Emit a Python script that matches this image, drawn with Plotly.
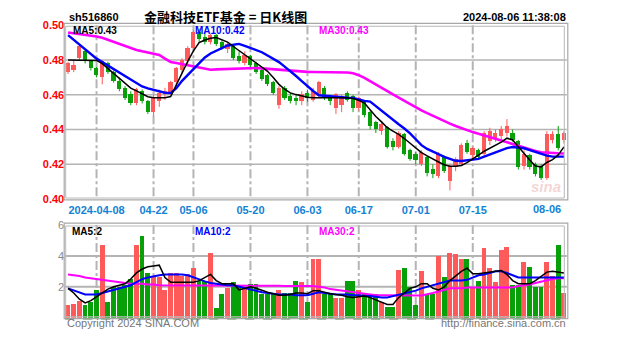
import plotly.graph_objects as go

W, H = 627, 342

dates = [
    "2024-03-28", "2024-03-29", "2024-04-01", "2024-04-02", "2024-04-03",
    "2024-04-08", "2024-04-09", "2024-04-10", "2024-04-11", "2024-04-12",
    "2024-04-15", "2024-04-16", "2024-04-17", "2024-04-18", "2024-04-19",
    "2024-04-22", "2024-04-23", "2024-04-24", "2024-04-25", "2024-04-26",
    "2024-04-29", "2024-04-30",
    "2024-05-06", "2024-05-07", "2024-05-08", "2024-05-09", "2024-05-10",
    "2024-05-13", "2024-05-14", "2024-05-15", "2024-05-16", "2024-05-17",
    "2024-05-20", "2024-05-21", "2024-05-22", "2024-05-23", "2024-05-24",
    "2024-05-27", "2024-05-28", "2024-05-29", "2024-05-30", "2024-05-31",
    "2024-06-03", "2024-06-04", "2024-06-05", "2024-06-06", "2024-06-07",
    "2024-06-11", "2024-06-12", "2024-06-13", "2024-06-14",
    "2024-06-17", "2024-06-18", "2024-06-19", "2024-06-20", "2024-06-21",
    "2024-06-24", "2024-06-25", "2024-06-26", "2024-06-27", "2024-06-28",
    "2024-07-01", "2024-07-02", "2024-07-03", "2024-07-04", "2024-07-05",
    "2024-07-08", "2024-07-09", "2024-07-10", "2024-07-11", "2024-07-12",
    "2024-07-15", "2024-07-16", "2024-07-17", "2024-07-18", "2024-07-19",
    "2024-07-22", "2024-07-23", "2024-07-24", "2024-07-25", "2024-07-26",
    "2024-07-29", "2024-07-30", "2024-07-31", "2024-08-01", "2024-08-02",
    "2024-08-05", "2024-08-06",
]

opens = [
    .4730, .4740, .4810, .4850, .4790, .4750, .4700, .4780, .4730, .4680,
    .4640, .4600, .4550, .4620, .4560, .4500, .4560, .4600, .4610, .4670,
    .4740, .4790, .4870, .4960, .4930, .4900, .4940, .4900, .4860, .4880,
    .4820, .4780, .4820, .4780, .4740, .4710, .4670, .4540, .4640, .4590,
    .4580, .4560, .4610, .4570, .4590, .4640, .4590, .4520, .4540, .4610,
    .4590, .4520, .4560, .4500, .4440, .4390, .4410, .4330, .4300, .4370,
    .4280, .4260, .4200, .4240, .4170, .4130, .4240, .4100, .4180, .4200,
    .4320, .4250, .4280, .4260, .4330, .4350, .4360, .4380, .4380, .4330,
    .4190, .4250, .4200, .4190, .4120, .4340, .4370, .4340,
]
highs = [
    .4790, .4800, .4890, .4860, .4800, .4760, .4800, .4790, .4740, .4700,
    .4650, .4620, .4640, .4630, .4570, .4600, .4630, .4640, .4680, .4760,
    .4810, .4880, .4970, .4980, .4960, .4950, .4950, .4920, .4900, .4890,
    .4850, .4850, .4830, .4790, .4760, .4720, .4680, .4650, .4650, .4610,
    .4600, .4620, .4630, .4640, .4680, .4650, .4600, .4610, .4600, .4620,
    .4600, .4590, .4570, .4510, .4450, .4440, .4420, .4350, .4390, .4380,
    .4290, .4270, .4280, .4250, .4200, .4270, .4250, .4200, .4240, .4320,
    .4340, .4300, .4290, .4390, .4410, .4400, .4420, .4460, .4400, .4340,
    .4280, .4260, .4210, .4200, .4390, .4390, .4420, .4390,
]
lows = [
    .4720, .4730, .4800, .4780, .4740, .4700, .4660, .4720, .4670, .4620,
    .4570, .4540, .4540, .4550, .4490, .4480, .4530, .4570, .4600, .4650,
    .4720, .4770, .4860, .4900, .4890, .4890, .4880, .4860, .4840, .4800,
    .4780, .4770, .4760, .4720, .4680, .4650, .4600, .4520, .4570, .4550,
    .4540, .4540, .4560, .4560, .4580, .4570, .4540, .4490, .4500, .4560,
    .4500, .4510, .4470, .4400, .4380, .4370, .4290, .4280, .4290, .4250,
    .4220, .4200, .4190, .4130, .4120, .4120, .4150, .4050, .4160, .4190,
    .4260, .4230, .4230, .4250, .4310, .4330, .4340, .4360, .4330, .4170,
    .4170, .4170, .4130, .4110, .4110, .4320, .4280, .4320,
]
closes = [
    .4780, .4770, .4880, .4790, .4750, .4710, .4790, .4730, .4680, .4630,
    .4580, .4550, .4630, .4560, .4500, .4580, .4610, .4620, .4670, .4750,
    .4800, .4870, .4960, .4920, .4900, .4940, .4890, .4870, .4890, .4810,
    .4790, .4830, .4770, .4730, .4690, .4660, .4610, .4640, .4580, .4560,
    .4560, .4600, .4580, .4620, .4670, .4580, .4560, .4600, .4590, .4570,
    .4520, .4580, .4480, .4420, .4400, .4430, .4300, .4300, .4380, .4260,
    .4230, .4220, .4270, .4150, .4140, .4260, .4160, .4190, .4230, .4310,
    .4270, .4290, .4240, .4380, .4390, .4380, .4400, .4420, .4340, .4180,
    .4260, .4180, .4140, .4120, .4370, .4370, .4290, .4380,
]
volumes = [
    0.8, 0.9, 1.1, 0.8, 1.0, 1.8, 4.7, 1.0, 2.0, 2.0,
    2.1, 2.5, 4.7, 5.3, 2.9, 2.7, 2.6, 1.8, 2.9, 2.9,
    2.7, 2.8, 3.2, 2.4, 2.4, 4.2, 0.6, 1.5, 1.9, 2.3,
    2.0, 1.9, 2.2, 2.2, 1.5, 1.5, 1.6, 1.8, 1.6, 1.6,
    2.4, 2.3, 1.0, 3.8, 3.8, 1.5, 1.5, 1.3, 1.3, 2.4,
    2.4, 1.8, 1.5, 1.5, 1.5, 1.0, 0.7, 0.7, 3.1, 3.2,
    2.0, 0.8, 3.0, 1.5, 1.5, 4.0, 2.6, 4.2, 4.1, 3.8,
    3.8, 1.9, 2.4, 4.5, 3.2, 2.3, 4.4, 4.6, 2.1, 2.1,
    3.6, 3.3, 2.0, 2.0, 3.6, 2.7, 4.7, 1.6,
]

ma5 = [
    .4800, .4800, .4800, .4800, .4800, .4798, .4779, .4750, .4722, .4694,
    .4665, .4638, .4622, .4606, .4589, .4583, .4583, .4583, .4590, .4658,
    .4727, .4792, .4853, .4900, .4915, .4925, .4930, .4918, .4903, .4878,
    .4853, .4831, .4808, .4783, .4759, .4735, .4700, .4660, .4632, .4611,
    .4601, .4592, .4586, .4583, .4583, .4583, .4583, .4583, .4583, .4583,
    .4578, .4568, .4552, .4514, .4475, .4444, .4410, .4391, .4372, .4348,
    .4322, .4294, .4267, .4248, .4229, .4213, .4197, .4189, .4189, .4193,
    .4209, .4228, .4252, .4275, .4291, .4307, .4327, .4350, .4340, .4301,
    .4261, .4225, .4190, .4185, .4210, .4227, .4254, .4300,
]
ma10 = [
    .4943, .4917, .4890, .4863, .4836, .4808, .4788, .4768, .4749, .4729,
    .4710, .4688, .4670, .4648, .4637, .4628, .4620, .4612, .4610, .4638,
    .4680, .4714, .4748, .4782, .4815, .4838, .4853, .4869, .4884, .4888,
    .4893, .4882, .4871, .4858, .4845, .4826, .4807, .4788, .4762, .4737,
    .4708, .4679, .4648, .4622, .4597, .4594, .4590, .4586, .4583, .4583,
    .4582, .4573, .4565, .4561, .4534, .4507, .4480, .4455, .4430, .4406,
    .4378, .4344, .4310, .4288, .4272, .4256, .4242, .4231, .4220, .4219,
    .4222, .4225, .4231, .4244, .4256, .4269, .4281, .4293, .4299, .4296,
    .4292, .4281, .4270, .4260, .4250, .4244, .4244, .4244,
]
ma30 = [
    .4959, .4955, .4950, .4946, .4941, .4936, .4928, .4916, .4903, .4891,
    .4878, .4866, .4858, .4850, .4843, .4836, .4829, .4808, .4789, .4783,
    .4776, .4770, .4763, .4756, .4750, .4744, .4746, .4747, .4749, .4751,
    .4752, .4754, .4756, .4754, .4752, .4749, .4747, .4745, .4742, .4739,
    .4736, .4733, .4732, .4731, .4731, .4730, .4729, .4729, .4728, .4728,
    .4724, .4713, .4697, .4677, .4658, .4638, .4621, .4602, .4584, .4565,
    .4546, .4528, .4510, .4494, .4478, .4463, .4447, .4434, .4420, .4407,
    .4394, .4385, .4375, .4366, .4356, .4347, .4337, .4327, .4317, .4306,
    .4295, .4284, .4276, .4269, .4266, .4265, .4263, .4262,
]
vma5 = [
    1.90, 1.60, 1.20, 0.95, 1.10, 1.35, 1.60, 1.85, 2.00, 2.10,
    2.20, 2.50, 2.90, 3.15, 3.30, 3.35, 3.40, 2.60, 2.30, 2.30,
    2.30, 2.30, 2.30, 2.40, 2.60, 2.80, 2.40, 2.20, 2.20, 2.20,
    1.80, 1.90, 2.00, 1.90, 1.75, 1.65, 1.55, 1.45, 1.45, 1.50,
    1.60, 1.60, 1.55, 1.75, 1.75, 1.65, 1.55, 1.50, 1.45, 1.35,
    1.30, 1.35, 1.40, 1.30, 1.15, 0.95, 0.85, 0.85, 1.30, 1.60,
    1.90, 2.00, 2.20, 2.20, 1.90, 1.80, 2.00, 2.40, 2.70, 3.00,
    3.20, 2.85, 2.85, 2.90, 2.95, 3.00, 3.05, 2.80, 2.40, 2.20,
    2.20, 2.20, 2.40, 2.70, 2.95, 3.00, 2.95, 2.90,
]
vma10 = [
    1.90, 1.75, 1.60, 1.50, 1.50, 1.50, 1.60, 1.70, 1.80, 1.90,
    2.00, 2.10, 2.30, 2.50, 2.60, 2.70, 2.75, 2.80, 2.80, 2.80,
    2.80, 2.75, 2.60, 2.45, 2.35, 2.25, 2.20, 2.15, 2.10, 2.10,
    2.00, 1.90, 1.80, 1.75, 1.65, 1.60, 1.55, 1.50, 1.50, 1.50,
    1.45, 1.45, 1.45, 1.55, 1.65, 1.60, 1.55, 1.50, 1.50, 1.50,
    1.45, 1.45, 1.40, 1.40, 1.35, 1.30, 1.30, 1.40, 1.50, 1.55,
    1.65, 1.75, 1.90, 2.00, 2.10, 2.20, 2.30, 2.40, 2.40, 2.40,
    2.45, 2.60, 2.75, 2.80, 2.90, 3.00, 3.00, 2.90, 2.75, 2.60,
    2.60, 2.60, 2.60, 2.60, 2.60, 2.60, 2.60, 2.60,
]
vma30 = [
    2.80, 2.75, 2.70, 2.60, 2.55, 2.50, 2.45, 2.40, 2.35, 2.30,
    2.25, 2.20, 2.20, 2.20, 2.15, 2.15, 2.10, 2.10, 2.10, 2.10,
    2.10, 2.10, 2.10, 2.10, 2.10, 2.08, 2.08, 2.08, 2.08, 2.08,
    2.07, 2.07, 2.07, 2.07, 2.06, 2.06, 2.06, 2.06, 2.05, 2.05,
    2.05, 2.05, 2.05, 2.05, 2.00, 1.95, 1.85, 1.80, 1.75, 1.70,
    1.65, 1.60, 1.55, 1.50, 1.45, 1.45, 1.44, 1.44, 1.44, 1.44,
    1.44, 1.44, 1.44, 1.50, 1.60, 1.70, 1.80, 1.90, 1.90, 1.90,
    1.95, 1.95, 1.95, 1.95, 1.95, 1.95, 1.95, 1.95, 1.95, 2.05,
    2.10, 2.15, 2.25, 2.35, 2.45, 2.50, 2.55, 2.55,
]

price_ticks = [0.40, 0.42, 0.44, 0.46, 0.48, 0.50]
vol_ticks = [2, 4, 6]
tick_dates = ["2024-04-08", "2024-04-22", "2024-05-06", "2024-05-20",
              "2024-06-03", "2024-06-17", "2024-07-01", "2024-07-15"]
tick_texts = ["2024-04-08", "04-22", "05-06", "05-20",
              "06-03", "06-17", "07-01", "07-15"]
last_label = "08-06"

code = "sh516860"
title = "金融科技ETF基金 = 日K线图"
stamp = "2024-08-06 11:38:08"
legend_price = ["MA5:0.43", "MA10:0.42", "MA30:0.43"]
legend_vol = ["MA5:2", "MA10:2", "MA30:2"]

UP = "#ff5a5a"
DOWN = "#08a008"
GRID = "#b4b4b4"
TICKBLUE = "#1382d4"

n = len(dates)
idx = list(range(n))
tick_idx = [dates.index(d) for d in tick_dates]

# plot geometry in pixels
PX0, PX1 = 65.2, 566.8
PY0, PY1 = 20, 200      # price panel top/bottom
VY0, VY1 = 227, 323     # volume panel top/bottom


def px(x):
    return x / W


def py(y):
    return 1 - y / H


fig = go.Figure()

up = [c >= o for o, c in zip(opens, closes)]
colors = [UP if u else DOWN for u in up]

# wicks
for flag, col in ((True, UP), (False, DOWN)):
    xs, ys = [], []
    for i in idx:
        if up[i] == flag:
            xs += [i, i, None]
            ys += [lows[i], highs[i], None]
    fig.add_trace(go.Scatter(x=xs, y=ys, mode="lines",
                             line=dict(color=col, width=1),
                             xaxis="x", yaxis="y", hoverinfo="skip"))

bases = [min(o, c) for o, c in zip(opens, closes)]
heights = [max(abs(c - o), 0.0004) for o, c in zip(opens, closes)]
fig.add_trace(go.Bar(x=idx, y=heights, base=bases, width=0.74,
                     marker=dict(color=colors, line=dict(width=0)),
                     xaxis="x", yaxis="y"))

for arr, col, wd in ((ma30, "#ff00ff", 2.6), (ma10, "#0000ff", 2.4),
                     (ma5, "#000000", 1.5)):
    fig.add_trace(go.Scatter(x=idx, y=arr, mode="lines",
                             line=dict(color=col, width=wd),
                             xaxis="x", yaxis="y"))

fig.add_trace(go.Bar(x=idx, y=volumes, width=0.86,
                     marker=dict(color=colors, line=dict(width=0)),
                     xaxis="x2", yaxis="y2"))
for arr, col, wd in ((vma30, "#ff00ff", 2.0), (vma10, "#0000ff", 2.0),
                     (vma5, "#000000", 1.5)):
    fig.add_trace(go.Scatter(x=idx, y=arr, mode="lines",
                             line=dict(color=col, width=wd),
                             xaxis="x2", yaxis="y2"))

shapes = []
# vertical dashed grid lines through both panels
for t in tick_idx:
    for (a, b) in ((PY0, PY1), (VY0, VY1)):
        shapes.append(dict(type="line", xref="x", yref="paper",
                           x0=t, x1=t, y0=py(a), y1=py(b),
                           line=dict(color=GRID, width=2, dash="dashdot"),
                           layer="below"))
# horizontal grid in price panel
for v in price_ticks[1:-1]:
    shapes.append(dict(type="line", xref="paper", yref="y",
                       x0=px(PX0), x1=px(PX1), y0=v, y1=v,
                       line=dict(color=GRID, width=1.5), layer="below"))
# horizontal grid in volume panel
for v in vol_ticks[:-1]:
    shapes.append(dict(type="line", xref="paper", yref="y2",
                       x0=px(PX0), x1=px(PX1), y0=v, y1=v,
                       line=dict(color=GRID, width=2), layer="below"))
# panel borders (double frame look)
for (a, b) in ((PY0, PY1), (VY0, VY1)):
    shapes.append(dict(type="rect", xref="paper", yref="paper",
                       x0=px(PX0 - 1), x1=px(PX1 + 1), y0=py(b + 1), y1=py(a - 2),
                       line=dict(color="#a8a8a8", width=1.2)))
    shapes.append(dict(type="rect", xref="paper", yref="paper",
                       x0=px(PX0 + 0.5), x1=px(PX1 - 2.5), y0=py(b - 1), y1=py(a + 1),
                       line=dict(color="#b8b8b8", width=1)))
# dashed base line under volume
shapes.append(dict(type="line", xref="paper", yref="paper",
                   x0=px(PX0), x1=px(PX1), y0=py(VY1 + 1.5), y1=py(VY1 + 1.5),
                   line=dict(color="#7a9a7a", width=1, dash="dash")))

F = "Liberation Sans, Arial, sans-serif"
ann = []


def text(x, y, s, color="#000", size=10, bold=True, anchor="left", family=F):
    ann.append(dict(x=px(x), y=py(y), xref="paper", yref="paper", text=(f"<b>{s}</b>" if bold else s),
                    showarrow=False, xanchor=anchor, yanchor="middle",
                    font=dict(family=family, size=size, color=color)))


text(67, 11, code, size=11)
text(142, 11, title, size=13, family="Noto Sans CJK SC, sans-serif")
text(568, 11, stamp, size=11, anchor="right")
text(71, 25, legend_price[0], "#000000", 10)
text(193, 25, legend_price[1], "#0000ff", 10)
text(317, 25, legend_price[2], "#ff00ff", 10)
text(70, 234, legend_vol[0], "#000000", 10)
text(193, 234, legend_vol[1], "#0000ff", 10)
text(317, 234, legend_vol[2], "#ff00ff", 10)
text(65, 329, "Copyright 2024 SINA.COM", "#777777", 11, bold=False)
text(568, 329, "http://finance.sina.com.cn", "#777777", 11, bold=False, anchor="right")
text(563, 210, last_label, TICKBLUE, 11, anchor="right")
ann.append(dict(x=px(563), y=py(187), xref="paper", yref="paper", text="<i><b>sina</b></i>",
                showarrow=False, xanchor="right", yanchor="middle",
                font=dict(family=F, size=15, color="rgba(230,160,160,0.45)")))

fig.update_layout(
    width=W, height=H,
    margin=dict(l=0, r=0, t=0, b=0),
    paper_bgcolor="white", plot_bgcolor="white",
    showlegend=False, bargap=0, barmode="overlay",
    shapes=shapes, annotations=ann,
    xaxis=dict(domain=[px(PX0), px(PX1)], range=[-0.5, n - 0.5],
               tickvals=tick_idx, ticktext=[f"<b>{t}</b>" for t in tick_texts],
               tickfont=dict(family=F, size=11, color=TICKBLUE),
               ticklabelstandoff=3,
               showgrid=False, zeroline=False, ticks="", anchor="y"),
    yaxis=dict(domain=[py(PY1), py(PY0)], range=[0.40, 0.50],
               tickvals=price_ticks, ticktext=[f"<b>{v:.2f}</b>" for v in price_ticks],
               tickfont=dict(family=F, size=11, color="#ff0000"),
               showgrid=False, zeroline=False, anchor="x"),
    xaxis2=dict(domain=[px(PX0), px(PX1)], range=[-0.5, n - 0.5],
                showticklabels=False, showgrid=False, zeroline=False, anchor="y2"),
    yaxis2=dict(domain=[py(VY1), py(VY0)], range=[0, 6],
                tickvals=vol_ticks, ticktext=[str(v) for v in vol_ticks],
                tickfont=dict(family=F, size=11, color="#888888"),
                showgrid=False, zeroline=False, anchor="x2"),
)

fig.write_html("out.html")
